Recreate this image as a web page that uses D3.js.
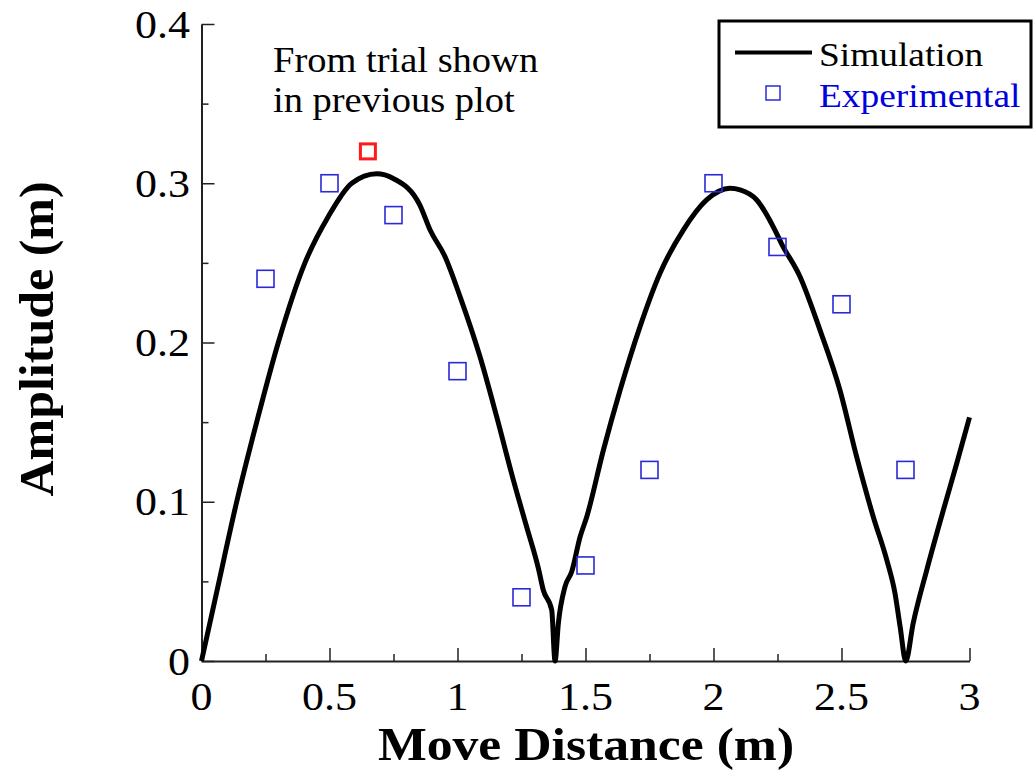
<!DOCTYPE html>
<html><head><meta charset="utf-8">
<script src="https://cdn.jsdelivr.net/npm/d3@7"></script>
<style>body{margin:0;background:#fff}svg{display:block}</style>
</head><body>
<svg id="c" width="1034" height="775"></svg>
<script>
const simX = [0,0.059,0.1375,0.2156,0.30,0.404,0.495,0.587,0.684,0.749,0.853,0.893,0.951,1.010,1.088,1.153,1.218,1.270,1.316,1.335,1.368,1.381,1.394,1.420,1.446,1.479,1.505,1.570,1.635,1.713,1.791,1.882,1.973,2.064,2.104,2.169,2.240,2.266,2.338,2.416,2.494,2.559,2.624,2.677,2.709,2.729,2.751,2.780,2.833,2.898,2.950,3.0];
const simY = [0,0.043,0.100,0.150,0.200,0.250,0.279,0.300,0.306,0.303,0.2863,0.2706,0.254,0.2288,0.191,0.1534,0.1137,0.0843,0.0582,0.0446,0.032,0,0.0237,0.0467,0.056,0.078,0.0906,0.1325,0.170,0.210,0.2435,0.2706,0.2895,0.2968,0.2958,0.2895,0.2706,0.262,0.2413,0.2078,0.170,0.1283,0.0906,0.0634,0.0425,0.0216,0,0.0237,0.0571,0.0948,0.124,0.153];
const expX = [0.25,0.5,0.75,1.0,1.25,1.5,1.75,2.0,2.25,2.5,2.75];
const expY = [0.24,0.30,0.28,0.182,0.04,0.06,0.12,0.30,0.26,0.224,0.12];
const hlX = [0.65];
const hlY = [0.32];
const xTicks = [0,0.5,1,1.5,2,2.5,3];
const xTickLabels = ["0","0.5","1","1.5","2","2.5","3"];
const xMinor = [0.25,0.75,1.25,1.75,2.25,2.75];
const yTicks = [0,0.1,0.2,0.3,0.4];
const yTickLabels = ["0","0.1","0.2","0.3","0.4"];
const yMinor = [0.05,0.15,0.25,0.35];

const svg = d3.select("#c");
const font = "'Liberation Serif','Times New Roman',serif";
const SX = 1.1;
const x = d3.scaleLinear().domain([0,3]).range([201.5,969.5]);
const y = d3.scaleLinear().domain([0,0.4]).range([661,24]);

function stext(px,py,txt,size,anchor,opts={}){
  const g = svg.append("g").attr("transform",`translate(${px},${py}) scale(${SX},1)`);
  const t = g.append("text").attr("text-anchor",anchor).attr("font-family",font)
    .attr("font-size",size).attr("fill",opts.fill||"#000").text(txt);
  if(opts.bold) t.attr("font-weight","bold");
  return t;
}

// x axis
const gx = svg.append("g").attr("transform","translate(0,661)");
gx.call(d3.axisBottom(x).tickValues(xTicks).tickFormat("").tickSizeInner(-13).tickSizeOuter(0));
gx.append("g").call(d3.axisBottom(x).tickValues(xMinor).tickFormat("").tickSizeInner(-7).tickSizeOuter(0)).select(".domain").remove();
// y axis
const gy = svg.append("g").attr("transform","translate(201.5,0)");
gy.call(d3.axisLeft(y).tickValues(yTicks).tickFormat("").tickSizeInner(-13).tickSizeOuter(0));
gy.append("g").call(d3.axisLeft(y).tickValues(yMinor).tickFormat("").tickSizeInner(-7).tickSizeOuter(0)).select(".domain").remove();
svg.selectAll(".domain").attr("stroke","#222").attr("stroke-width",2);
svg.selectAll(".tick line").attr("stroke","#222").attr("stroke-width",1.5);
svg.selectAll(".tick text").remove();

xTicks.forEach((v,i)=>stext(x(v),710,xTickLabels[i],40,"middle"));
yTicks.forEach((v,i)=>stext(190,y(v)+13.5,yTickLabels[i],40,"end"));

// simulation line
const sim = simX.map((v,i)=>[v,simY[i]]);
svg.append("path").datum(sim)
  .attr("fill","none").attr("stroke","#000").attr("stroke-width",5).attr("stroke-linejoin","round")
  .attr("d", d3.line().x(d=>x(d[0])).y(d=>y(d[1])).curve(d3.curveMonotoneX));

// experimental markers
const s = 17;
svg.append("g").selectAll("rect").data(expX.map((v,i)=>[v,expY[i]])).join("rect")
  .attr("x",d=>x(d[0])-s/2).attr("y",d=>y(d[1])-s/2).attr("width",s).attr("height",s)
  .attr("fill","none").attr("stroke","#2a2ad8").attr("stroke-width",1.6);
svg.append("g").selectAll("rect").data(hlX.map((v,i)=>[v,hlY[i]])).join("rect")
  .attr("x",d=>x(d[0])-s/2+1).attr("y",d=>y(d[1])-s/2+1).attr("width",s-2).attr("height",s-2)
  .attr("fill","none").attr("stroke","#ff1a1a").attr("stroke-width",3);

// axis titles
stext(586,760,"Move Distance (m)",47,"middle",{bold:true});
svg.append("text").attr("transform","translate(53,339) rotate(-90) scale(1.02,1)").attr("text-anchor","middle")
  .attr("font-family",font).attr("font-weight","bold").attr("font-size",49).text("Amplitude (m)");

// annotation
stext(273,72,"From trial shown",35,"start");
stext(273,112,"in previous plot",35,"start");

// legend
svg.append("rect").attr("x",719).attr("y",21).attr("width",312).attr("height",106)
  .attr("fill","#fff").attr("stroke","#000").attr("stroke-width",3);
svg.append("line").attr("x1",735).attr("x2",812).attr("y1",52.5).attr("y2",52.5).attr("stroke","#000").attr("stroke-width",4);
stext(819,66,"Simulation",34,"start");
svg.append("rect").attr("x",766).attr("y",86).attr("width",14).attr("height",14).attr("fill","none").attr("stroke","#2a2ad8").attr("stroke-width",1.5);
stext(819,107,"Experimental",34,"start",{fill:"#0000dd"});
</script>
</body></html>
